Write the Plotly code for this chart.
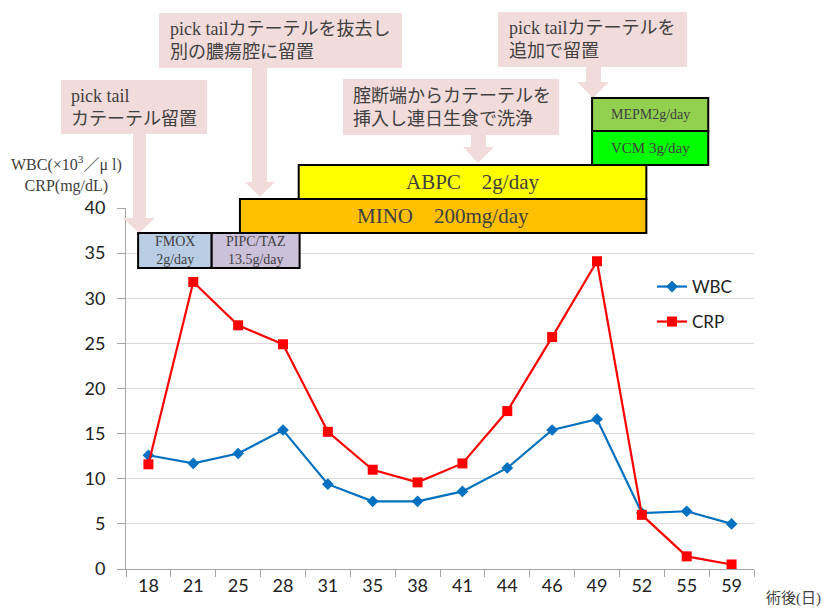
import plotly.graph_objects as go

# ---- data ----
days = ["18", "21", "25", "28", "31", "35", "38", "41", "44", "46", "49", "52", "55", "59"]
wbc = [12.6, 11.7, 12.8, 15.4, 9.4, 7.5, 7.5, 8.6, 11.2, 15.4, 16.6, 6.2, 6.4, 5.0]
crp = [11.6, 31.8, 27.0, 24.9, 15.2, 11.0, 9.6, 11.7, 17.5, 25.7, 34.1, 6.0, 1.4, 0.5]

# drug periods (category index units along the x axis)
drug_labels = ["FMOX<br>2g/day", "PIPC/TAZ<br>13.5g/day", "MINO　200mg/day",
               "ABPC　2g/day", "VCM 3g/day", "MEPM2g/day"]
drug_start = [-0.23, 1.41, 2.04, 3.35, 9.89, 9.89]
drug_end = [1.41, 3.37, 11.1, 11.1, 12.48, 12.48]
drug_colors = ["#B9CDE5", "#CCC1DA", "#FFC000", "#FFFF00", "#00FF00", "#92D050"]
drug_row = [0, 0, 1, 2, 3, 4]
drug_font = [14, 14, 21, 21, 15, 14]

callout_texts = ["pick tail<br>カテーテル留置",
                 "pick tailカテーテルを抜去し<br>別の膿瘍腔に留置",
                 "腟断端からカテーテルを<br>挿入し連日生食で洗浄",
                 "pick tailカテーテルを<br>追加で留置"]

W, H = 829, 608
L, R, T, B = 126, 75, 208, 39
PW, PH = W - L - R, H - T - B


def px(x):
    return (x - L) / PW


def py(y):
    return (H - B - y) / PH


SERIF = "Liberation Serif, Noto Sans CJK JP, serif"
SANS = "Lato, Open Sans, sans-serif"
TXT = "#404040"

fig = go.Figure()
fig.add_trace(go.Scatter(x=days, y=wbc, name="WBC", mode="lines+markers",
                         line=dict(color="#0070C0", width=2.2),
                         marker=dict(symbol="diamond", size=9, color="#0070C0"),
                         legend="legend", cliponaxis=False))
fig.add_trace(go.Scatter(x=days, y=crp, name="CRP", mode="lines+markers",
                         line=dict(color="#FF0000", width=2.2),
                         marker=dict(symbol="square", size=10, color="#FF0000"),
                         legend="legend2", cliponaxis=False))

shapes = []
annotations = []

# callouts (box + down arrow), in pixel coords converted to paper
callouts = [
    (61, 80, 207, 134, 133, 146, 123, 155, 218, 139, 233, 69),
    (159, 13, 402, 68, 252, 267, 245, 275, 182, 260, 197, 168),
    (343, 79, 559, 135, 471, 486, 463, 494, 147, 478, 163, 351),
    (498, 12, 687, 67, 586, 601, 577, 609, 82, 593, 98, 507),
]
for (bx0, by0, bx1, by1, sx0, sx1, hx0, hx1, hy, tx, ty, textx), txt in zip(callouts, callout_texts):
    pts = [(bx0, by0), (bx1, by0), (bx1, by1), (sx1, by1), (sx1, hy), (hx1, hy), (tx, ty),
           (hx0, hy), (sx0, hy), (sx0, by1), (bx0, by1)]
    path = "M " + " L ".join(f"{px(a):.5f},{py(b):.5f}" for a, b in pts) + " Z"
    shapes.append(dict(type="path", xref="paper", yref="paper", path=path,
                       fillcolor="#F2DBDB", line=dict(width=0), layer="above"))
    annotations.append(dict(xref="paper", yref="paper", x=px(textx), y=py((by0 + by1) / 2),
                            xanchor="left", yanchor="middle", align="left", showarrow=False,
                            text=txt, font=dict(family=SERIF, size=18, color=TXT)))

# drug bars
row_bottom_px = [268, 233, 199, 165, 131]
row_top_px = [233, 199, 165, 131, 98]
for lab, s, e, c, r, fs in zip(drug_labels, drug_start, drug_end, drug_colors, drug_row, drug_font):
    y0, y1 = py(row_bottom_px[r]), py(row_top_px[r])
    shapes.append(dict(type="rect", xref="x", yref="paper", x0=s, x1=e, y0=y0, y1=y1,
                       fillcolor=c, line=dict(color="black", width=2), layer="above"))
    annotations.append(dict(xref="x", yref="paper", x=(s + e) / 2, y=(y0 + y1) / 2,
                            xanchor="center", yanchor="middle", showarrow=False,
                            text=lab, font=dict(family=SERIF, size=fs, color=TXT)))

# axis titles
annotations.append(dict(xref="paper", yref="paper", x=px(66), y=py(174), xanchor="center",
                        yanchor="middle", align="center", showarrow=False,
                        text="WBC(×10<sup>3</sup>／μ l)<br>CRP(mg/dL)",
                        font=dict(family=SERIF, size=16, color=TXT)))
annotations.append(dict(xref="paper", yref="paper", x=px(764), y=py(598), xanchor="left",
                        yanchor="middle", showarrow=False, text="術後(日)",
                        font=dict(family=SERIF, size=15, color=TXT)))

fig.update_layout(
    width=W, height=H,
    margin=dict(l=L, r=R, t=T, b=B, pad=0),
    plot_bgcolor="white", paper_bgcolor="white",
    shapes=shapes, annotations=annotations,
    xaxis=dict(type="category", tickson="boundaries", ticks="outside", ticklen=7,
               tickcolor="#A6A6A6", showline=True, linecolor="#A6A6A6", linewidth=1,
               showgrid=False, range=[-0.5, 13.5],
               tickfont=dict(family=SANS, size=18, color="#222222")),
    yaxis=dict(range=[0, 40], dtick=5, ticks="outside", ticklen=8, tickcolor="#A6A6A6",
               showline=True, linecolor="#A6A6A6", linewidth=1, showgrid=True,
               gridcolor="#D9D9D9", gridwidth=1, zeroline=False,
               ticklabelstandoff=8,
               tickfont=dict(family=SANS, size=18, color="#222222")),
    legend=dict(x=px(652), y=py(287), xanchor="left", yanchor="middle",
                bgcolor="rgba(0,0,0,0)", font=dict(family=SANS, size=17, color="#222222")),
    legend2=dict(x=px(652), y=py(322), xanchor="left", yanchor="middle",
                 bgcolor="rgba(0,0,0,0)", font=dict(family=SANS, size=17, color="#222222")),
    showlegend=True,
)

fig.write_html("out.html")
